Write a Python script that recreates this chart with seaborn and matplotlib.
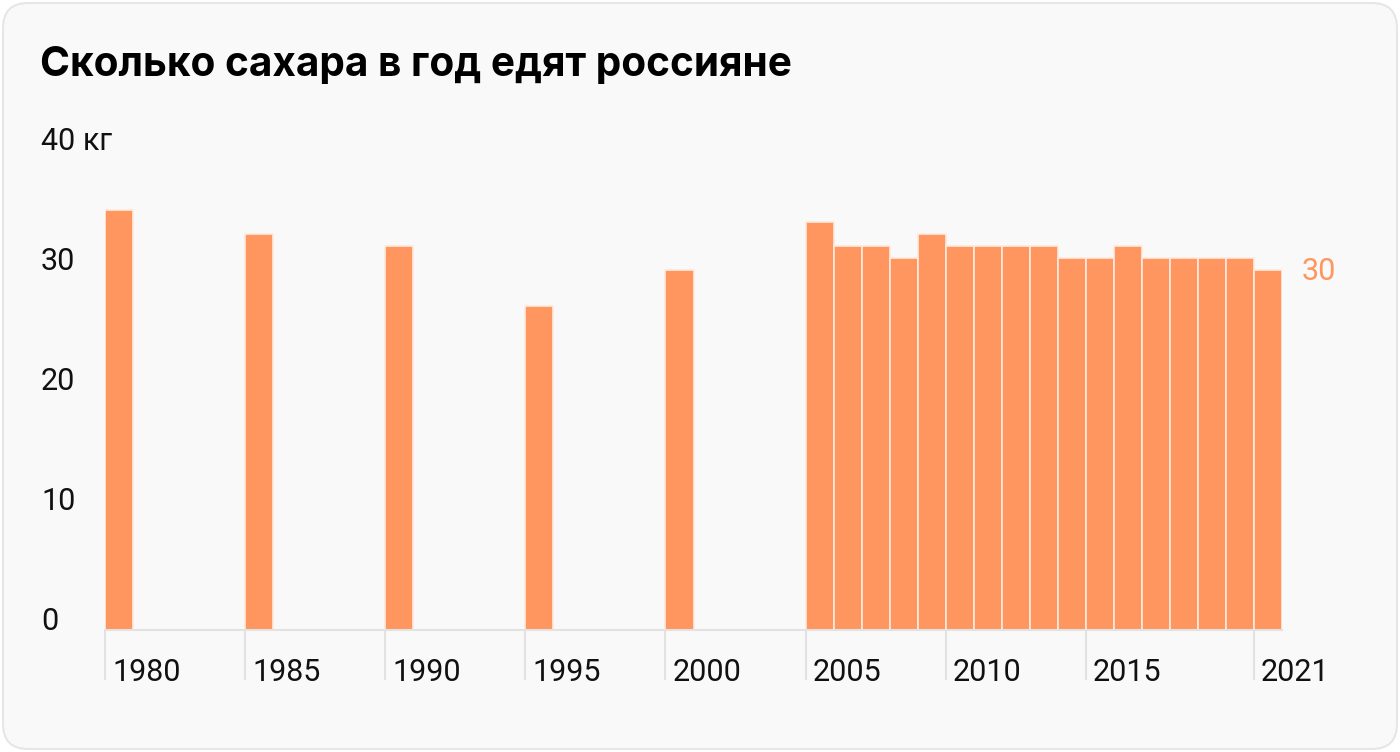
import numpy as np
import pandas as pd
import seaborn as sns
import matplotlib
matplotlib.use("Agg")
import matplotlib.pyplot as plt
from matplotlib.patches import FancyBboxPatch
from matplotlib.transforms import ScaledTranslation

# ---- data ----
years = [1980, 1985, 1990, 1995, 2000,
         2005, 2006, 2007, 2008, 2009, 2010, 2011, 2012, 2013,
         2014, 2015, 2016, 2017, 2018, 2019, 2020, 2021]
sugar_kg = [35, 33, 32, 27, 30,
            34, 32, 32, 31, 33, 32, 32, 32, 32,
            31, 31, 32, 31, 31, 31, 31, 30]
x_tick_years = [1980, 1985, 1990, 1995, 2000, 2005, 2010, 2015, 2021]
y_ticks = [0, 10, 20, 30, 40]
y_tick_labels = ["0", "10", "20", "30", "40 кг"]
title = "Сколько сахара в год едят россияне"
last_label = "30"

BAR = "#FF9660"
CARD = "#F9F9F9"
TICKFONT = ["Roboto", "DejaVu Sans"]

sns.set_theme(style="white")
plt.rcParams["font.family"] = ["Inter", "DejaVu Sans"]

fig = plt.figure(figsize=(14, 7.52), dpi=100)
fig.patch.set_facecolor("white")
card = FancyBboxPatch((3/1400, 3/752), 1394/1400, 746/752,
                      boxstyle="round,pad=0,rounding_size=0.018",
                      transform=fig.transFigure, facecolor=CARD,
                      edgecolor="#E6E6E6", linewidth=1.5, mutation_aspect=1400/752,
                      zorder=-10)
fig.patches.append(card)

ax = fig.add_axes([105/1400, 122/752, (1282-105)/1400, 480/752])
ax.set_facecolor("none")
ax.set_zorder(5)

df = pd.DataFrame({"year": years, "kg": sugar_kg})
# bars occupy [year, year+1)
df["center"] = df["year"] + 0.5
sns.barplot(data=df, x="center", y="kg", native_scale=True, width=1.0,
            color=BAR, saturation=1, edgecolor="#FFE9DE", linewidth=1.2, ax=ax)

ax.set_xlim(1980, 2022)
ax.set_ylim(0, 40)
ax.set_xlabel("")
ax.set_ylabel("")
for s in ["top", "right", "left"]:
    ax.spines[s].set_visible(False)
ax.spines["bottom"].set_color("#E2E2E2")
ax.spines["bottom"].set_linewidth(1.5)

ax.set_xticks(x_tick_years)
ax.set_xticklabels([str(y) for y in x_tick_years], family=TICKFONT)
ax.tick_params(axis="x", bottom=True, length=50/100*72, width=1.5, color="#E2E2E2",
               direction="out", pad=-16, labelsize=22, labelcolor="#111111")
for lab in ax.get_xticklabels():
    lab.set_horizontalalignment("left")
    lab.set_transform(lab.get_transform() + ScaledTranslation(7/100, 0, fig.dpi_scale_trans))

ax.set_yticks(y_ticks)
ax.set_yticklabels(y_tick_labels, family=TICKFONT)
ax.tick_params(axis="y", left=False, length=0, pad=(105-41)/100*72, labelsize=22,
               labelcolor="#111111")
for lab in ax.get_yticklabels():
    lab.set_horizontalalignment("left")
    lab.set_transform(lab.get_transform() + ScaledTranslation(0, 11/100, fig.dpi_scale_trans))

ax.annotate(last_label, xy=(years[-1] + 1, sugar_kg[-1]), xytext=(20, -2),
            textcoords="offset pixels", ha="left", va="center",
            fontsize=22, color=BAR, family=TICKFONT)

fig.text(40/1400, 1 - 65/752, title, fontsize=29.2, fontweight="bold",
         color="#000000", ha="left", va="center")

fig.savefig("out.png", dpi=100, facecolor=fig.get_facecolor())
